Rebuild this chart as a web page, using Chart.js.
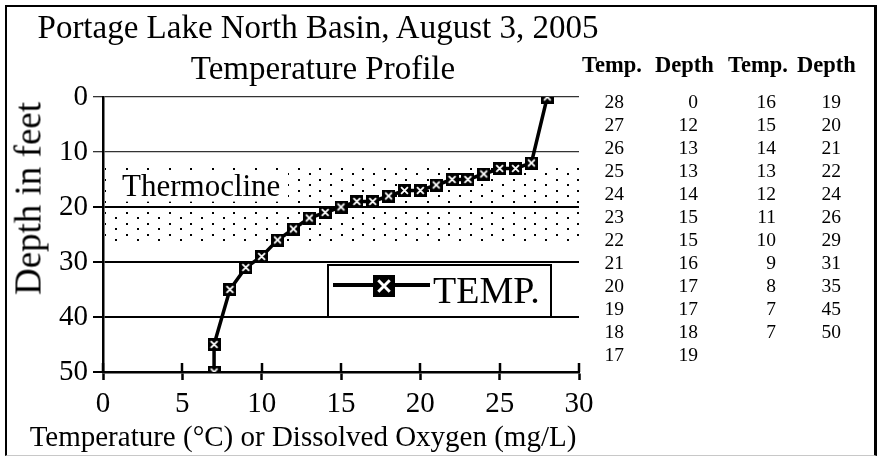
<!DOCTYPE html>
<html><head><meta charset="utf-8">
<script src="https://cdn.jsdelivr.net/npm/chart.js@4.4.0/dist/chart.umd.min.js"></script>
<style>
body{margin:0;background:#fff;}
#frame{position:relative;width:877px;height:457px;background:#fff;overflow:hidden;font-family:"Liberation Serif","Times New Roman",serif;color:#000;}
#border{position:absolute;left:5px;top:5px;width:872px;height:451px;box-sizing:border-box;border-left:2px solid #000;border-top:2px solid #000;border-right:3px solid #000;border-bottom:1px solid #c8c8c8;pointer-events:none;z-index:3;}
#c{position:absolute;left:0;top:0;}
.ttl{position:absolute;text-align:center;font-size:33px;line-height:33px;white-space:nowrap;z-index:2;}
#title1{left:0;top:11px;width:636px;}
#title2{left:0;top:52px;width:646px;}
#xtitle{position:absolute;left:0;top:421px;width:606px;text-align:center;font-size:29px;line-height:30px;white-space:nowrap;z-index:2;}
#ytitle{position:absolute;left:-102px;top:180px;width:260px;height:37px;line-height:37px;text-align:center;font-size:37px;white-space:nowrap;transform:rotate(-90deg);transform-origin:50% 50%;z-index:2;}
.hdr{position:absolute;top:54px;font-weight:bold;font-size:22.5px;line-height:22px;white-space:nowrap;z-index:2;}
.col{position:absolute;top:90px;width:50px;font-size:19.5px;line-height:23px;text-align:right;z-index:2;}
</style>
</head>
<body>
<div id="frame">
  <canvas id="c" width="877" height="457"></canvas>
  <div id="title1" class="ttl"></div>
  <div id="title2" class="ttl"></div>
  <div id="ytitle"></div>
  <div id="xtitle"></div>
  <div id="table"></div>
  <div id="border"></div>
</div>
<script>
// ---- data ----
const titleLines = ['Portage Lake North Basin, August 3, 2005', 'Temperature Profile'];
const xAxisTitle = 'Temperature (\u00B0C) or Dissolved Oxygen (mg/L)';
const yAxisTitle = 'Depth in feet';
const seriesLabel = 'TEMP.';
const temps  = [28, 27, 26, 25, 24, 23, 22, 21, 20, 19, 18, 17, 16, 15, 14, 13, 12, 11, 10, 9, 8, 7, 7];
const depths = [0, 12, 13, 13, 14, 15, 15, 16, 17, 17, 18, 19, 19, 20, 21, 22, 24, 26, 29, 31, 35, 45, 50];
const tempTicks  = [0, 5, 10, 15, 20, 25, 30];
const depthTicks = [0, 10, 20, 30, 40, 50];
const thermoclineRange = [12.3, 26.3];
const thermoclineLabel = 'Thermocline';
const tableHeaders = ['Temp.', 'Depth', 'Temp.', 'Depth'];

const SERIF = '"Liberation Serif", "Times New Roman", serif';

// ---- HTML text ----
document.getElementById('title1').textContent = titleLines[0];
document.getElementById('title2').textContent = titleLines[1];
document.getElementById('xtitle').textContent = xAxisTitle;
document.getElementById('ytitle').textContent = yAxisTitle;
(function buildTable(){
  const t = document.getElementById('table');
  const hdrLeft = [582, 655, 728, 797];
  tableHeaders.forEach((h, i) => {
    const d = document.createElement('div'); d.className = 'hdr';
    d.style.left = hdrLeft[i] + 'px'; d.textContent = h; t.appendChild(d);
  });
  const split = 12;
  const cols = [temps.slice(0, split), depths.slice(0, split), temps.slice(split), depths.slice(split)];
  const rightEdge = [624, 698, 776, 841];
  cols.forEach((vals, i) => {
    const d = document.createElement('div'); d.className = 'col';
    d.style.left = (rightEdge[i] - 50) + 'px';
    d.innerHTML = vals.join('<br>'); t.appendChild(d);
  });
})();

// ---- marker images ----
function makeMarker(size, lw) {
  const c = document.createElement('canvas'); c.width = size; c.height = size;
  const g = c.getContext('2d');
  g.fillStyle = '#000'; g.fillRect(0, 0, size, size);
  g.strokeStyle = '#fff'; g.lineWidth = lw; g.lineCap = 'butt';
  const m = size * 0.24;
  g.beginPath(); g.moveTo(m, m); g.lineTo(size - m, size - m);
  g.moveTo(size - m, m); g.lineTo(m, size - m); g.stroke();
  return c;
}
const marker = makeMarker(13, 1.8);
const legendMarker = makeMarker(22, 3);

// ---- dotted pattern ----
function makePattern(ctx) {
  const c = document.createElement('canvas'); c.width = 43; c.height = 11;
  const g = c.getContext('2d'); g.fillStyle = '#000';
  [[0,0],[21,0],[11,5],[32,5]].forEach(([x,y]) => g.fillRect(x, y, 2, 2));
  const p = ctx.createPattern(c, 'repeat');
  p.setTransform(new DOMMatrix().translate(40, 3));
  return p;
}

const bandPlugin = {
  id: 'band',
  beforeDatasetsDraw(chart) {
    const {ctx, chartArea: ca, scales: {y, x}} = chart;
    const top = y.getPixelForValue(thermoclineRange[0]);
    const bot = y.getPixelForValue(thermoclineRange[1]);
    ctx.save();
    ctx.fillStyle = makePattern(ctx);
    ctx.fillRect(ca.left + 2, top, ca.right - ca.left - 2, bot - top);
    ctx.fillStyle = '#fff';
    ctx.fillRect(ca.left + 9, top + 6, 176, 31);
    ctx.fillStyle = '#000';
    ctx.font = '31px ' + SERIF;
    ctx.textBaseline = 'alphabetic';
    ctx.fillText(thermoclineLabel, ca.left + 19, top + 31);
    ctx.strokeStyle = '#000'; ctx.lineWidth = 2.5;
    tempTicks.forEach(v => {
      const px = Math.round(x.getPixelForValue(v));
      ctx.beginPath(); ctx.moveTo(px, ca.bottom); ctx.lineTo(px, ca.bottom - 9); ctx.stroke();
    });
    ctx.restore();
  }
};

const legendPlugin = {
  id: 'boxLegend',
  afterDatasetsDraw(chart) {
    const {ctx, chartArea: ca} = chart;
    const L = ca.left + 225, T = ca.top + 168, W = 223, H = 52;
    ctx.save();
    ctx.fillStyle = '#fff'; ctx.fillRect(L, T, W, H);
    ctx.strokeStyle = '#000'; ctx.lineWidth = 2; ctx.strokeRect(L, T, W, H);
    const cy = T + 20;
    ctx.lineWidth = 4; ctx.beginPath(); ctx.moveTo(L + 5, cy); ctx.lineTo(L + 102, cy); ctx.stroke();
    ctx.drawImage(legendMarker, L + 45, cy - 10);
    ctx.fillStyle = '#000'; ctx.font = '38px ' + SERIF; ctx.textBaseline = 'alphabetic';
    ctx.fillText(chart.data.datasets[0].label, L + 105, T + 38);
    ctx.restore();
  }
};

new Chart(document.getElementById('c'), {
  type: 'scatter',
  data: {
    datasets: [{
      label: seriesLabel,
      data: temps.map((t, i) => ({x: t, y: depths[i]})),
      showLine: true,
      borderColor: '#000',
      backgroundColor: '#000',
      borderWidth: 3.5,
      pointStyle: marker,
      pointRadius: 6,
      pointHoverRadius: 6,
      tension: 0
    }]
  },
  options: {
    responsive: false,
    animation: false,
    devicePixelRatio: 1,
    layout: { padding: { top: 97, right: 298, left: 0, bottom: 0 } },
    plugins: { legend: { display: false }, title: { display: false }, tooltip: { enabled: false } },
    scales: {
      x: {
        type: 'linear', min: 0, max: 30, position: 'bottom',
        afterBuildTicks: s => { s.ticks = tempTicks.map(v => ({value: v})); },
        afterFit: s => { s.height = 85; },
        grid: { drawOnChartArea: false, drawTicks: true, tickLength: 8, tickColor: '#000', tickWidth: 2.5 },
        border: { display: true, color: '#000', width: 2.5 },
        ticks: { color: '#000', font: { family: SERIF, size: 29 }, padding: 7, maxRotation: 0, autoSkip: false }
      },
      y: {
        type: 'linear', min: 0, max: 50, reverse: true,
        afterBuildTicks: s => { s.ticks = depthTicks.map(v => ({value: v})); },
        afterFit: s => { s.width = 103; },
        grid: {
          color: c => (c.tick && c.tick.value >= 20) ? '#000' : '#333',
          lineWidth: c => (c.tick && c.tick.value >= 20) ? 2 : 1.3,
          drawTicks: true, tickLength: 10
        },
        border: { display: true, color: '#000', width: 2.5 },
        ticks: { color: '#000', font: { family: SERIF, size: 29 }, padding: 5, autoSkip: false }
      }
    }
  },
  plugins: [bandPlugin, legendPlugin]
});
</script>
</body></html>
